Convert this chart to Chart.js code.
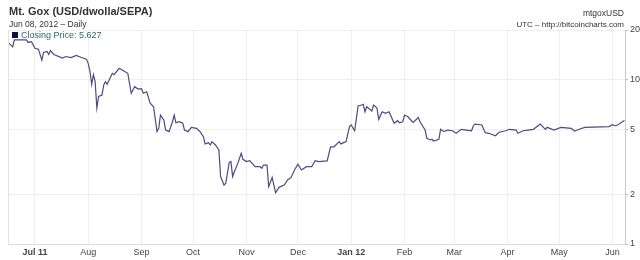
<!DOCTYPE html>
<html>
<head>
<meta charset="utf-8">
<script src="https://cdn.jsdelivr.net/npm/chart.js@4/dist/chart.umd.min.js"></script>
<style>
    html, body { margin: 0; padding: 0; background: #fff; }
    #wrap { position: relative; width: 640px; height: 260px; font-family: "Liberation Sans", Arial, sans-serif; color: #333; }
    #chart { position: absolute; left: 0; top: 0; }
    .txt { position: absolute; white-space: nowrap; line-height: 1; }
    #title { left: 9px; top: 6px; font-size: 11px; font-weight: bold; }
    #sub { left: 9px; top: 20px; font-size: 8.5px; }
    #code { right: 16px; top: 9px; font-size: 8.5px; }
    #src { right: 16px; top: 21px; font-size: 8px; }
    #legend { left: 12px; top: 31px; font-size: 9px; color: #2e6666; }
    #legend i { display: inline-block; width: 6px; height: 6px; background: #10103a; margin-right: 3px; vertical-align: 0; }
</style>
</head>
<body>
<div id="wrap">
    <canvas id="chart" width="640" height="260"></canvas>
    <div class="txt" id="title">Mt. Gox (USD/dwolla/SEPA)</div>
    <div class="txt" id="sub">Jun 08, 2012 – Daily</div>
    <div class="txt" id="code">mtgoxUSD</div>
    <div class="txt" id="src">UTC – http://bitcoincharts.com</div>
    <div class="txt" id="legend"><i></i>Closing Price: 5.627</div>
</div>
<script>
// days counted from 2011-07-01
const priceDays = [
    -15, -13, -12, -5, -4, -2, 0, 2, 4, 5, 7, 8, 9, 11, 16, 18, 21, 24, 27, 30,
    31, 32, 33, 34, 35, 36, 37, 39, 40, 41, 42, 45, 46, 49, 51, 54, 56, 58, 60, 62,
    63, 65, 67, 69, 71, 72, 73, 75, 76, 78, 80, 81, 82, 84, 86, 87, 89, 91, 94, 96,
    98, 99, 101, 102, 103, 105, 107, 108, 110, 111, 113, 114, 115, 116, 118, 120, 121, 123, 125, 128,
    131, 132, 133, 135, 136, 138, 140, 142, 145, 147, 149, 151, 153, 155, 158, 161, 163, 165, 170, 172,
    174, 176, 177, 178, 181, 183, 184, 186, 188, 190, 191, 192, 193, 196, 197, 199, 200, 202, 204, 206,
    209, 211, 212, 214, 215, 217, 220, 222, 223, 224, 227, 228, 230, 231, 232, 235, 236, 238, 240, 243,
    245, 248, 251, 254, 255, 256, 260, 262, 264, 268, 270, 274, 276, 280, 281, 284, 287, 290, 294, 297,
    298, 302, 306, 312, 314, 317, 320, 334, 336, 338, 343
];
const closingPrices = [
    16.6, 15.8, 17.4, 17.4, 16.8, 17.0, 15.5, 15.3, 13.1, 14.6, 14.8, 14.2, 15.0, 14.2, 13.5, 13.8, 13.6, 14.0, 13.6, 13.3,
    12.5, 11.2, 9.35, 10.7, 9.7, 6.7, 7.9, 8.05, 9.26, 9.7, 9.35, 10.9, 10.7, 11.7, 11.4, 10.9, 8.25, 9.04, 8.75, 8.8,
    8.25, 8.43, 7.17, 6.83, 4.82, 5.05, 6.08, 5.67, 4.93, 4.82, 5.54, 6.08, 5.46, 5.54, 5.42, 4.93, 4.82, 5.12, 5.05, 4.82,
    4.49, 4.06, 4.13, 4.0, 4.19, 4.0, 3.73, 2.57, 2.28, 2.34, 3.12, 3.17, 2.57, 2.75, 3.09, 3.56, 3.27, 3.17, 3.21, 2.95,
    2.95, 2.89, 3.02, 3.02, 2.23, 2.54, 2.05, 2.21, 2.28, 2.45, 2.54, 2.82, 3.06, 2.82, 2.95, 2.95, 3.21, 3.17, 3.2, 3.9,
    3.9, 4.09, 4.19, 4.06, 4.19, 5.17, 5.29, 4.88, 6.9, 7.0, 7.07, 6.37, 6.83, 6.44, 7.0, 6.7, 5.73, 6.37, 6.23, 6.37,
    5.42, 5.62, 5.46, 5.54, 6.08, 5.94, 5.49, 5.73, 5.89, 5.54, 4.93, 4.39, 4.29, 4.33, 4.23, 4.33, 4.98, 4.82, 4.93, 4.88,
    4.71, 4.98, 4.93, 4.88, 5.22, 5.36, 5.29, 4.75, 4.71, 4.55, 4.78, 4.88, 4.98, 4.93, 4.71, 4.88, 4.93, 4.98, 5.36, 4.98,
    5.12, 4.93, 5.12, 5.05, 4.86, 5.0, 5.12, 5.17, 5.31, 5.22, 5.627
];

const monthDays = [0, 31, 62, 92, 123, 153, 184, 215, 244, 275, 305, 336];
const monthLabels = ['Jul 11', 'Aug', 'Sep', 'Oct', 'Nov', 'Dec', 'Jan 12', 'Feb', 'Mar', 'Apr', 'May', 'Jun'];
const priceTicks = [1, 2, 5, 10, 20];

Chart.defaults.font.family = '"Liberation Sans", Arial, sans-serif';
Chart.defaults.color = '#444';

const leftEdge = {
    id: 'leftEdge',
    beforeDatasetsDraw(chart) {
        const a = chart.chartArea;
        const c = chart.ctx;
        c.save();
        c.strokeStyle = '#e2e2e2';
        c.lineWidth = 1;
        c.beginPath();
        c.moveTo(a.left + 0.5, a.top);
        c.lineTo(a.left + 0.5, a.bottom);
        c.stroke();
        c.restore();
    }
};

const ctx = document.getElementById('chart').getContext('2d');
const priceChart = new Chart(ctx, {
    type: 'line',
    data: {
        datasets: [{
            label: 'Closing Price',
            data: priceDays.map((d, i) => ({ x: d, y: closingPrices[i] })),
            borderColor: '#4b4b85',
            borderWidth: 1.2,
            pointRadius: 0,
            tension: 0,
            fill: false
        }]
    },
    options: {
        responsive: false,
        animation: false,
        layout: { padding: { left: 8, top: 30, right: 0, bottom: 0 } },
        plugins: {
            legend: { display: false },
            tooltip: { enabled: false }
        },
        scales: {
            x: {
                type: 'linear',
                min: -15.7,
                max: 343.3,
                afterBuildTicks: s => { s.ticks = monthDays.map(v => ({ value: v })); },
                afterFit: s => { s.height = 16; },
                ticks: {
                    autoSkip: false,
                    maxRotation: 0,
                    padding: 3,
                    color: '#444',
                    callback: (v, i) => monthLabels[i],
                    font: c => ({ size: 9, weight: /\d/.test(monthLabels[c.index] || '') ? 'bold' : 'normal' })
                },
                grid: { color: '#efefef', drawTicks: false },
                border: { color: '#dcdcdc' }
            },
            y: {
                type: 'logarithmic',
                position: 'right',
                min: 1,
                max: 20,
                afterBuildTicks: s => { s.ticks = priceTicks.map(v => ({ value: v })); },
                afterFit: s => { s.width = 15; },
                ticks: {
                    padding: 2,
                    color: '#444',
                    font: { size: 9 },
                    callback: v => String(v)
                },
                grid: { color: '#efefef', tickLength: 3, tickColor: '#bbbbbb' },
                border: { color: '#c8c8c8' }
            }
        }
    },
    plugins: [leftEdge]
});
</script>
</body>
</html>
